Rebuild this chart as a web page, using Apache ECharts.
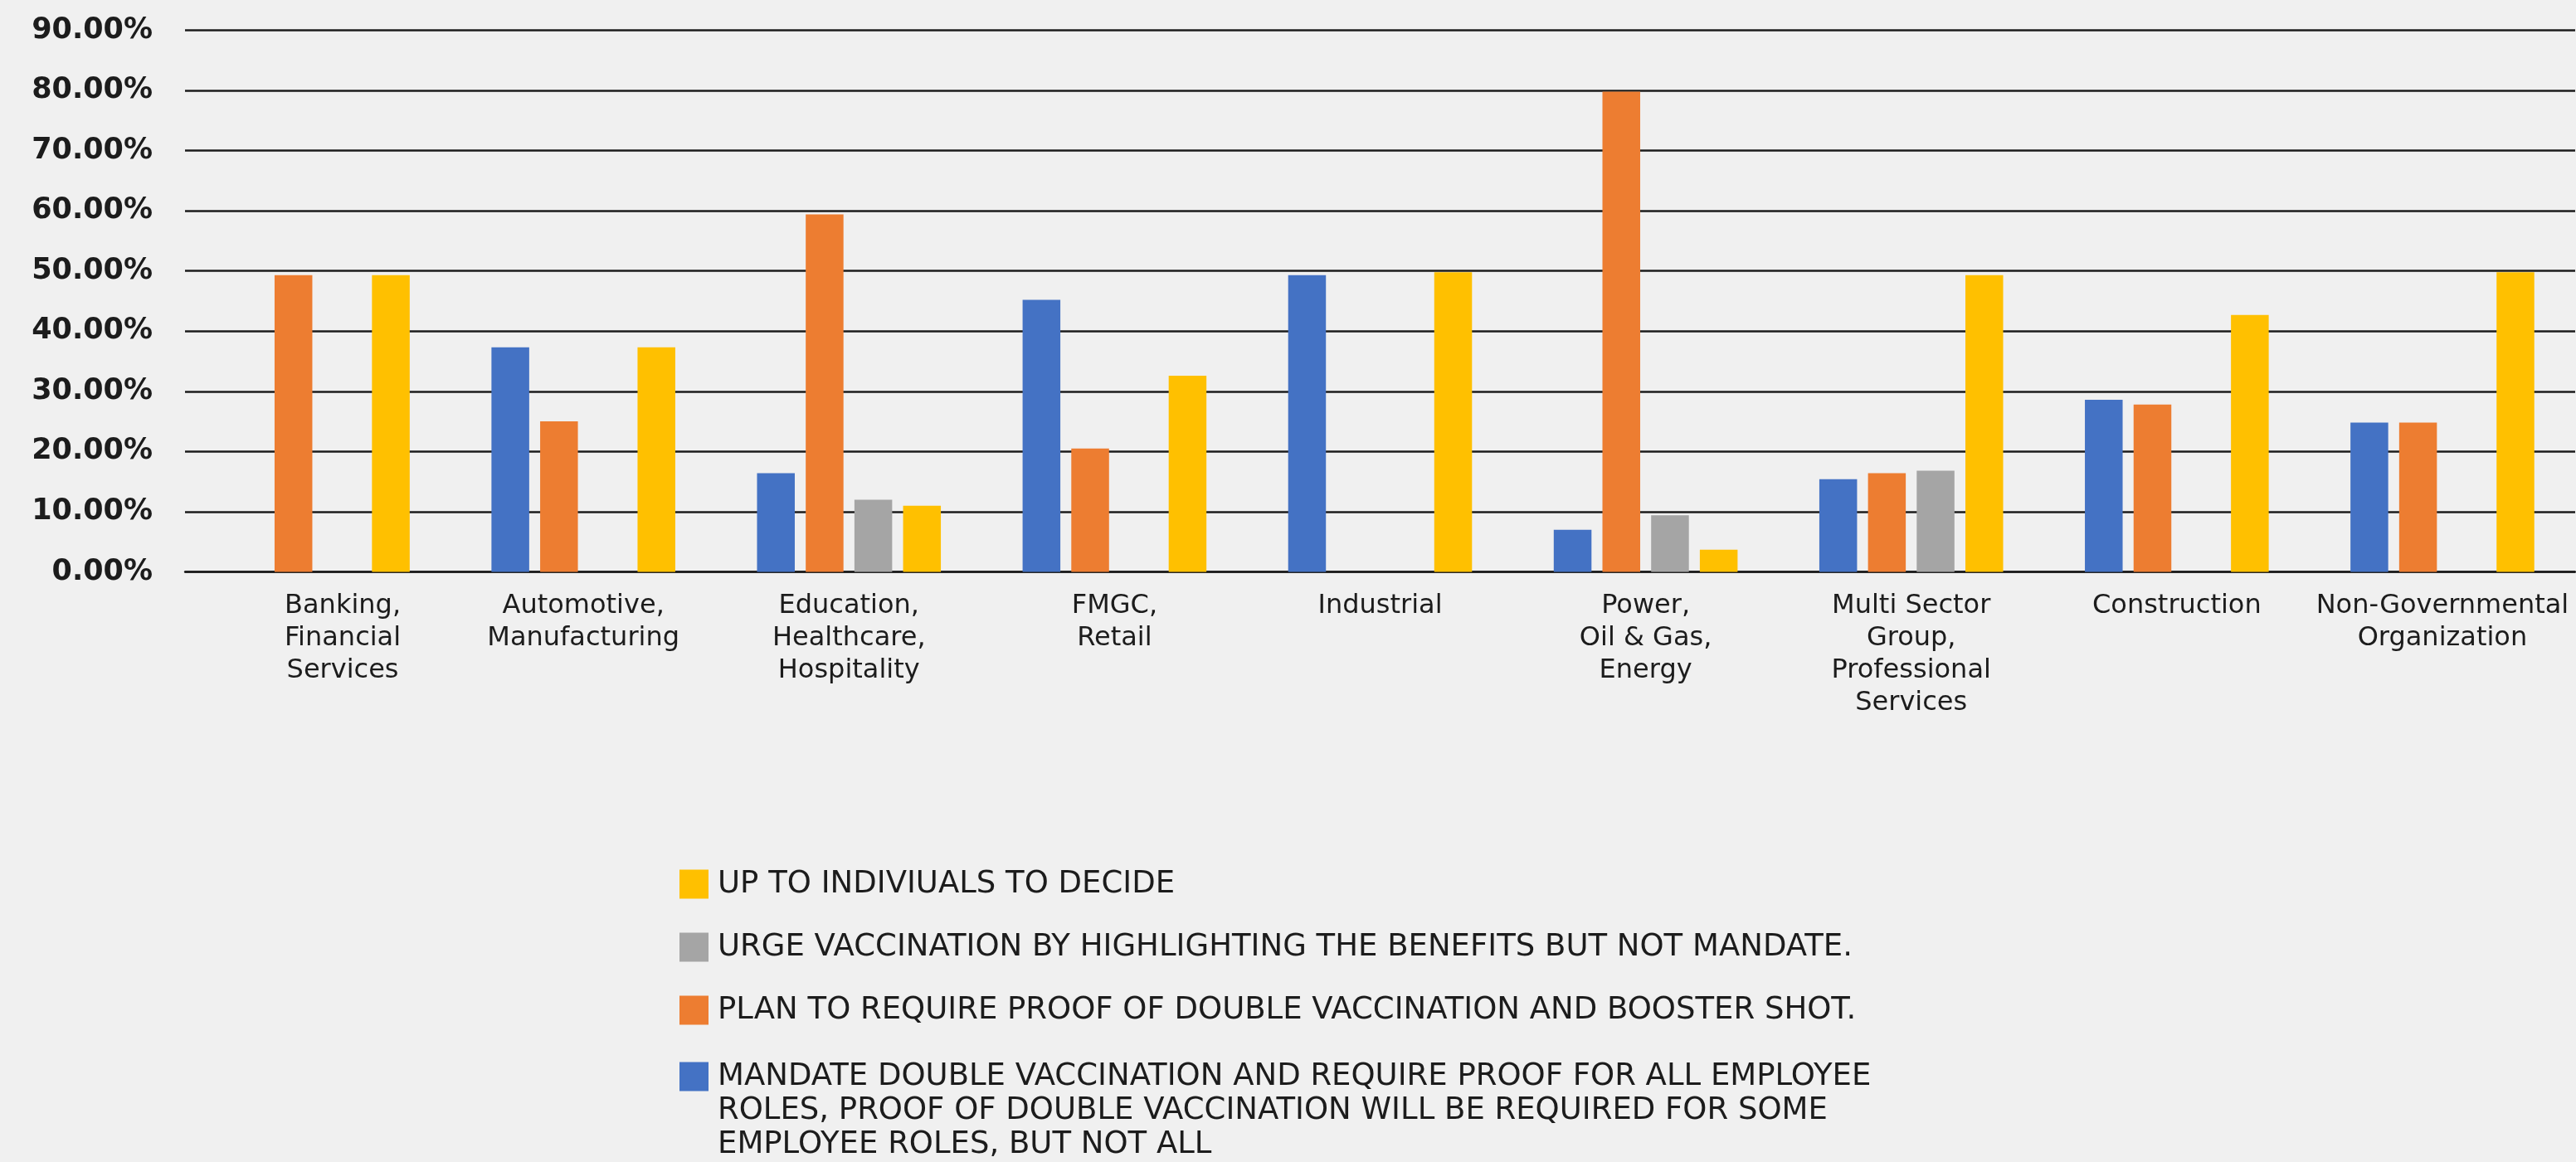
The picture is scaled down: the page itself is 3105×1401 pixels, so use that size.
<!DOCTYPE html>
<html>
<head>
<meta charset="utf-8">
<script src="https://cdn.jsdelivr.net/npm/echarts@6/dist/echarts.min.js"></script>
<style>
  html, body { margin: 0; padding: 0; background: #f0f0f0; }
  #chart { width: 3105px; height: 1401px; }
</style>
</head>
<body>
<div id="chart"></div>
<script>
// Industry sectors on the x axis
const categories = [
  'Banking,\nFinancial\nServices',
  'Automotive,\nManufacturing',
  'Education,\nHealthcare,\nHospitality',
  'FMGC,\nRetail',
  'Industrial',
  'Power,\nOil & Gas,\nEnergy',
  'Multi Sector\nGroup,\nProfessional\nServices',
  'Construction',
  'Non-Governmental\nOrganization'
];

// Share of respondents per sector (percent); null = no answer in that group
const mandateValues = [null, 37.3, 16.4, 45.2, 49.3, 7.0, 15.4, 28.6, 24.8];
const planValues    = [49.3, 25.0, 59.4, 20.5, null, 79.8, 16.4, 27.8, 24.8];
const urgeValues    = [null, null, 12.0, null, null, 9.4, 16.8, null, null];
const decideValues  = [49.3, 37.3, 11.0, 32.6, 49.8, 3.7, 49.3, 42.7, 49.8];

const seriesNames = {
  mandate: 'MANDATE DOUBLE VACCINATION AND REQUIRE PROOF FOR ALL EMPLOYEE ROLES, PROOF OF DOUBLE VACCINATION WILL BE REQUIRED FOR SOME EMPLOYEE ROLES, BUT NOT ALL',
  plan: 'PLAN TO REQUIRE PROOF OF DOUBLE VACCINATION AND BOOSTER SHOT.',
  urge: 'URGE VACCINATION BY HIGHLIGHTING THE BENEFITS BUT NOT MANDATE.',
  decide: 'UP TO INDIVIUALS TO DECIDE'
};

// Y axis ticks
const yTicks = { min: 0, max: 90, step: 10 };

const COLORS = { mandate: '#4472C4', plan: '#ED7D31', urge: '#A5A5A5', decide: '#FFC000' };
const INK = '#1c1c1c';
const FONT = 'DejaVu Sans';

// Greedy word wrap for long legend entries
function wrap(text, maxChars) {
  const words = text.split(' ');
  const lines = [];
  let cur = '';
  words.forEach(w => {
    if (cur && (cur + ' ' + w).length > maxChars) { lines.push(cur); cur = w; }
    else { cur = cur ? cur + ' ' + w : w; }
  });
  if (cur) lines.push(cur);
  return lines;
}

const categoryItems = categories.map((c, i) =>
  i === 0 ? { value: c, textStyle: { padding: [0, 0, 0, 60] } } : c
);

function bar(key, values) {
  return {
    name: seriesNames[key],
    type: 'bar',
    data: values,
    barWidth: 45.5,
    barGap: '29%',
    itemStyle: { color: COLORS[key] },
    emphasis: { disabled: true }
  };
}

const legendText = {
  fontFamily: FONT, fontSize: 37, color: INK, lineHeight: 41, padding: [0, 0, 0, 6]
};

const chart = echarts.init(document.getElementById('chart'));
chart.setOption({
  backgroundColor: '#f0f0f0',
  animation: false,
  grid: { left: 223, right: 1, top: 36.5, bottom: 711.5 },
  xAxis: {
    type: 'category',
    data: categoryItems,
    axisLine: { show: true, lineStyle: { color: INK, width: 2.5 } },
    axisTick: { show: false },
    axisLabel: {
      interval: 0, margin: 22,
      fontFamily: FONT, fontSize: 32, lineHeight: 39, color: INK
    }
  },
  yAxis: {
    type: 'value',
    min: yTicks.min, max: yTicks.max, interval: yTicks.step,
    axisLine: { show: false },
    axisTick: { show: false },
    splitLine: { lineStyle: { color: INK, width: 2.5 } },
    axisLabel: {
      margin: 39,
      fontFamily: FONT, fontSize: 35, fontWeight: 'bold', color: INK,
      formatter: v => v.toFixed(2) + '%'
    }
  },
  legend: [
    {
      orient: 'vertical', left: 819, top: 1045.5, padding: 0,
      itemWidth: 35, itemHeight: 35, itemGap: 35,
      icon: 'rect',
      selectedMode: false,
      data: [seriesNames.decide, seriesNames.urge, seriesNames.plan],
      textStyle: legendText
    },
    {
      // two leading empty lines keep the swatch beside the first text line
      orient: 'vertical', left: 819, top: 1195.5, padding: 0,
      itemWidth: 35, itemHeight: 35,
      icon: 'rect',
      selectedMode: false,
      data: [seriesNames.mandate],
      formatter: name => ['', ''].concat(wrap(name, 61)).join('\n'),
      textStyle: legendText
    }
  ],
  series: [
    bar('mandate', mandateValues),
    bar('plan', planValues),
    bar('urge', urgeValues),
    bar('decide', decideValues)
  ]
});
</script>
</body>
</html>
